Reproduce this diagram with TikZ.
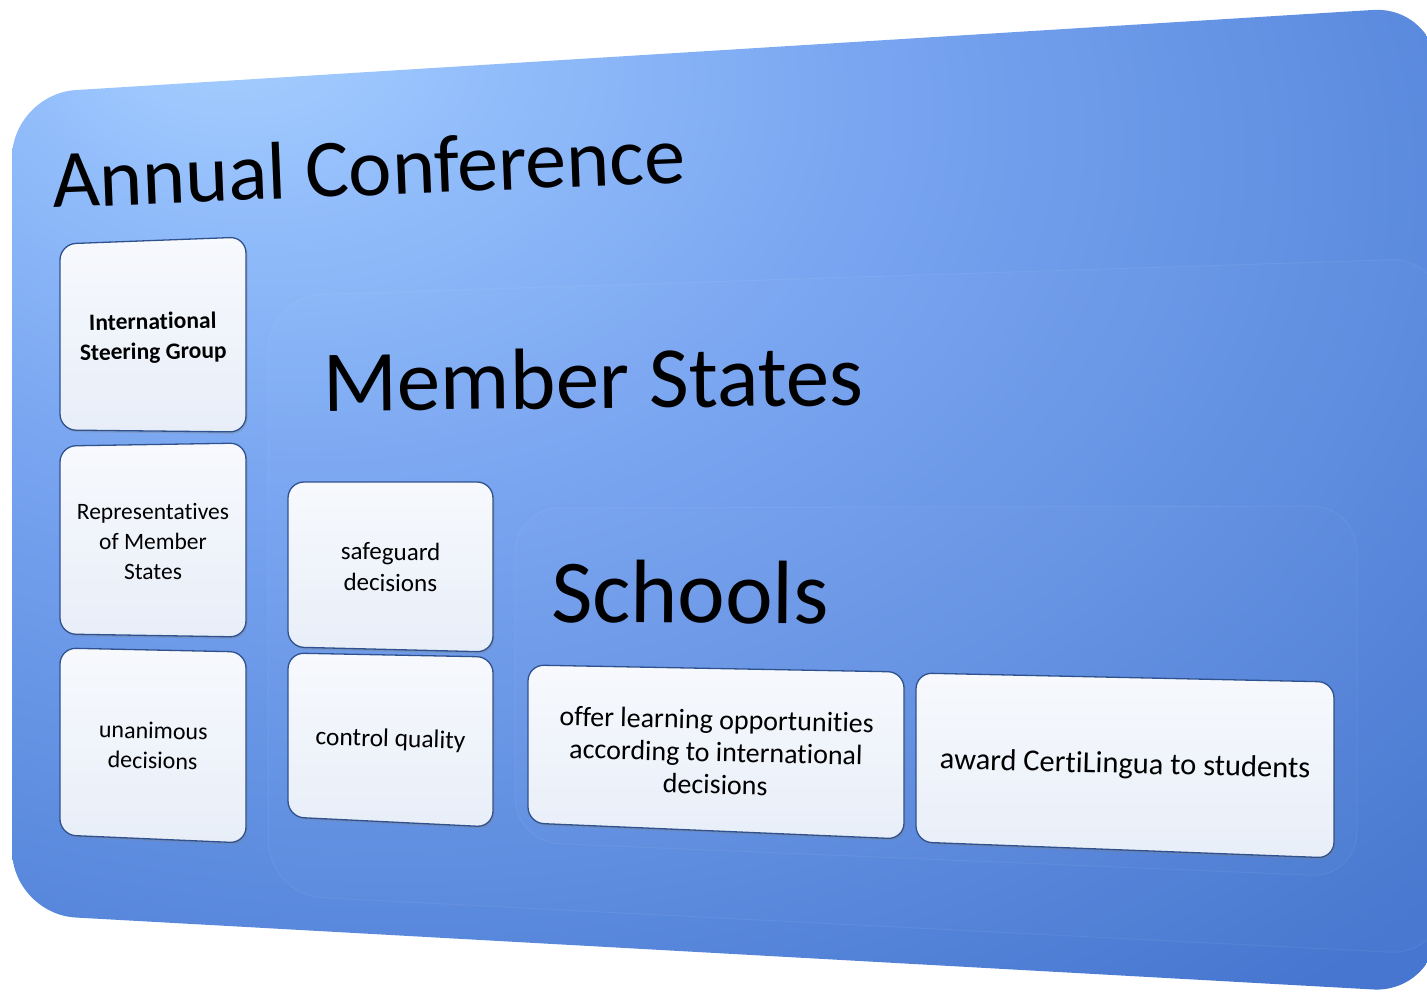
\documentclass[tikz,border=0pt]{standalone}
\usepackage{fontspec}
\setmainfont[RawFeature=-liga, RawFeature=-clig, RawFeature=-calt, RawFeature=-dlig]{Carlito}
\usetikzlibrary{calc,shadows}

\definecolor{panelTop}{HTML}{A9D2FF}
\definecolor{panelHi}{HTML}{93BEFB}
\definecolor{panelMid}{HTML}{78A4F0}
\definecolor{panelLow}{HTML}{6190E2}
\definecolor{panelBot}{HTML}{4676CF}
\definecolor{cardEdge}{HTML}{2F528F}
\definecolor{cardTop}{HTML}{F7F9FD}
\definecolor{cardBot}{HTML}{E8EEF8}

% light corner at top left, darker towards bottom and right
\pgfdeclareradialshading{panelglow}{\pgfpoint{-18bp}{25bp}}{%
  color(0bp)=(panelTop); color(8bp)=(panelHi); color(20bp)=(panelMid);
  color(33bp)=(panelLow); color(48bp)=(panelBot); color(100bp)=(panelBot)}

\tikzset{
  panel/.style = {rounded corners=64pt, shading=panelglow},
  subpanel/.style = {rounded corners=55pt, fill=white, fill opacity=.015,
    draw=white, draw opacity=.06, line width=1pt},
  card/.style = {rounded corners=16pt, draw=cardEdge, line width=1.3pt,
    top color=cardTop, bottom color=cardBot,
    drop shadow={opacity=.35, shadow xshift=1.5pt, shadow yshift=-2pt}},
  cardtext/.style = {align=center, inner sep=0pt},
  title/.style = {anchor=base west, inner sep=0pt}
}

% card: name, corners tl tr br bl, angle, font, text
\newcommand{\card}[8]{%
  \path[card] #2 -- #3 -- #4 -- #5 -- cycle;
  \node[cardtext, rotate=#6, font={#7}] (#1) at ($#2!.5!#4$) {#8};
}

\begin{document}
\begin{tikzpicture}[x=1pt, y=-1pt]
  \useasboundingbox (0,0) rectangle (1427,993);
  % panels
  \shade[panel] (12,94) -- (1437,6) -- (1437,993) -- (12,914) -- cycle;
  \path[subpanel] (268,296) -- (1445,258) -- (1445,955) -- (268,895) -- cycle;
  \path[subpanel, rounded corners=45pt] (515,508) -- (1357,506) -- (1357,877) -- (515,842) -- cycle;
  % titles
  \node[title, rotate=2.3, font=\fontsize{82}{86}\selectfont] (annual) at (53,208) {Annual Conference};
  \node[title, rotate=0.6, font=\fontsize{87}{90}\selectfont] (member) at (323,411) {Member States};
  \node[title, rotate=-0.4, font=\fontsize{90}{94}\selectfont] (schools) at (551,622) {Schools};
  % conference column
  \card{isg}{(60,244)}{(246,237)}{(246,432)}{(60,430)}{1}{\bfseries\fontsize{23.5}{30}\selectfont}{International\\Steering Group}
  \card{rep}{(60,446)}{(246,443)}{(246,637)}{(60,634)}{0}{\fontsize{23.5}{30}\selectfont}{Representatives\\of Member\\States}
  \card{una}{(60,648)}{(246,652)}{(246,843)}{(60,835)}{-1.2}{\fontsize{24}{30}\selectfont}{unanimous\\decisions}
  % member states column
  \card{safe}{(288,482)}{(493,482)}{(493,652)}{(288,647)}{-0.4}{\fontsize{25}{31}\selectfont}{safeguard\\decisions}
  \card{ctrl}{(288,653)}{(493,657)}{(493,827)}{(288,817)}{-1.5}{\fontsize{25.5}{31}\selectfont}{control quality}
  % schools row
  \card{offer}{(528,665)}{(904,672)}{(904,839)}{(528,823)}{-1.3}{\fontsize{28}{32.5}\selectfont}{offer learning opportunities\\according to international\\decisions}
  \card{award}{(916,673)}{(1334,682)}{(1334,858)}{(916,842)}{-1.4}{\fontsize{30.5}{34}\selectfont}{award CertiLingua to students}
\end{tikzpicture}
\end{document}
